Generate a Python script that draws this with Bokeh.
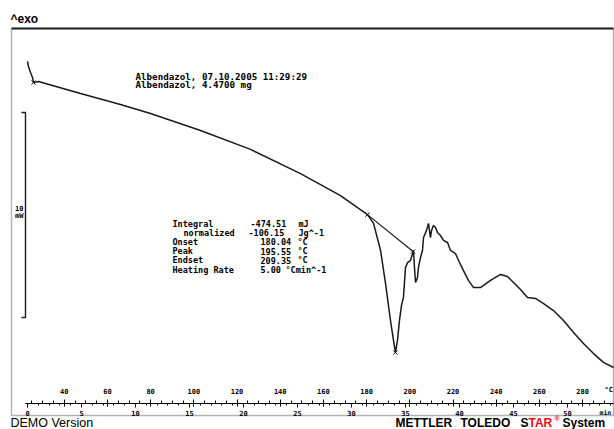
from bokeh.plotting import figure
from bokeh.models import Range1d, LinearAxis, FixedTicker, SingleIntervalTicker, Label, ColumnDataSource, BoxAnnotation
from bokeh.core.properties import value
from bokeh.embed import file_html
from bokeh.resources import INLINE

# ---------------- data ----------------
time_min = [0.00, 0.09, 0.28, 0.46, 0.56, 1.02, 4.91, 8.61, 11.39, 16.02,
            20.65, 25.28, 28.98, 31.48, 32.04, 32.69, 33.15, 33.61, 33.89, 34.07,
            34.26, 34.44, 34.63, 34.81, 35.00, 35.19, 35.46, 35.65, 35.74, 35.83,
            35.93, 36.11, 36.20, 36.39, 36.57, 36.67, 36.94, 37.13, 37.31, 37.41,
            37.59, 37.78, 37.96, 38.24, 38.52, 38.89, 39.17, 39.63, 39.91, 40.37,
            40.83, 41.30, 41.94, 42.87, 43.80, 44.44, 45.00, 45.65, 46.30, 47.04,
            47.78, 48.70, 49.63, 50.56, 51.48, 52.41, 53.33, 54.26]
heat_mw = [5.27, 5.02, 4.73, 4.49, 4.24, 4.29, 3.71, 3.17, 2.73, 1.90,
           0.98, -0.20, -1.27, -2.20, -2.63, -3.95, -5.56, -7.37, -8.34, -8.93,
           -8.34, -7.37, -6.63, -6.24, -4.78, -4.54, -4.44, -4.10, -3.95, -4.78,
           -5.51, -5.27, -4.78, -4.29, -3.95, -3.32, -2.98, -2.63, -3.32, -2.98,
           -2.73, -2.83, -3.07, -3.22, -3.46, -3.56, -3.95, -4.10, -4.44, -4.93,
           -5.41, -5.76, -5.76, -5.41, -5.12, -5.22, -5.51, -5.85, -6.24, -6.29,
           -6.54, -6.88, -7.37, -7.95, -8.49, -8.98, -9.41, -9.66]

baseline_t = [31.48, 35.70]
baseline_mw = [-2.20, -4.00]

mark_t = [0.56, 31.48, 34.07, 35.70]
mark_mw = [4.24, -2.20, -8.93, -4.00]

temp_ticks = [40, 60, 80, 100, 120, 140, 160, 180, 200, 220, 240, 260, 280]
temp_minor = list(range(25, 295, 5))
time_tick_interval = 5

start_temp = 23.0       # degC at t = 0
heating_rate = 5.0      # K/min
scale_bar_mw = 10

header_lines = ["Albendazol, 07.10.2005 11:29:29", "Albendazol, 4.4700 mg"]
result_labels = ["Integral", "normalized", "Onset", "Peak", "Endset", "Heating Rate"]
result_values = ["-474.51", "-106.15", "180.04", "195.55", "209.35", "5.00"]
result_units = ["mJ", "Jg^-1", "\u00b0C", "\u00b0C", "\u00b0C", "\u00b0Cmin^-1"]

# ---------------- layout helpers (pixel -> data, for placing annotations) ----------------
W, H = 614, 429
BL, BR, BT, BB = 11, 613, 28, 415      # drawn box
PX_PER_MIN = 10.8
PX_PER_MW = 20.5
X0_PX = 27
Y_REF_PX, Y_REF = 415, -12.0

def dx(px):
    return (px - X0_PX) / PX_PER_MIN

def dy(py):
    return (Y_REF_PX - py) / PX_PER_MW + Y_REF

x_start, x_end = dx(0), dx(W)
y_start, y_end = dy(H), dy(0)

p = figure(width=W, height=H, output_backend="svg", toolbar_location=None,
           x_range=Range1d(x_start, x_end), y_range=Range1d(y_start, y_end),
           y_axis_location=None, min_border=0)
p.background_fill_color = "white"
p.border_fill_color = "white"
p.outline_line_color = None
p.xgrid.visible = False
p.ygrid.visible = False

# frame box
p.add_layout(BoxAnnotation(left=dx(BL), right=dx(BR), top=dy(BT), bottom=dy(BB),
                           fill_alpha=0, line_color="black", line_width=1.4))
p.add_layout(BoxAnnotation(left=dx(BL), right=dx(BR), top=dy(BT - 1), bottom=dy(BT + 1),
                           fill_color="#222222", fill_alpha=1, line_alpha=0))

axis_y = dy(403)
font_mono = "DejaVu Sans Mono"

# bottom time axis
xa = p.xaxis[0]
xa.fixed_location = axis_y
xa.bounds = (dx(25), dx(BR))
xa.ticker = SingleIntervalTicker(interval=time_tick_interval, num_minor_ticks=5)
xa.major_label_text_font = font_mono
xa.major_label_text_font_size = "7px"
xa.major_label_text_font_style = "bold"
xa.major_label_text_color = "black"
xa.major_label_standoff = 2
xa.major_tick_in = 0
xa.major_tick_out = 4
xa.minor_tick_in = 0
xa.minor_tick_out = 2
xa.axis_line_color = "black"
xa.major_tick_line_color = "black"
xa.minor_tick_line_color = "black"

# top temperature axis
p.extra_x_ranges = {"degC": Range1d(start_temp + heating_rate * x_start,
                                    start_temp + heating_rate * x_end)}
ta = LinearAxis(x_range_name="degC", fixed_location=axis_y,
                bounds=(start_temp + heating_rate * dx(25), start_temp + heating_rate * dx(BR)),
                ticker=FixedTicker(ticks=temp_ticks, minor_ticks=temp_minor))
ta.major_label_text_font = font_mono
ta.major_label_text_font_size = "7px"
ta.major_label_text_font_style = "bold"
ta.major_label_text_color = "black"
ta.major_label_standoff = 6
ta.major_tick_in = 3
ta.major_tick_out = 4
ta.minor_tick_in = 0
ta.minor_tick_out = 3
ta.axis_line_color = "black"
p.add_layout(ta, "above")

# curve, baseline, marks
p.line(time_min, heat_mw, line_color="#1a1a1a", line_width=1.5)
p.line(baseline_t, baseline_mw, line_color="#1a1a1a", line_width=1.2)
p.scatter(mark_t, mark_mw, marker="x", size=6, line_color="#1a1a1a", line_width=1)

# scale bar (10 mW)
bar_x = dx(25)
bar_tick = dx(21)
bar_top = dy(112)
p.line([bar_tick, bar_x, bar_x, bar_tick],
       [bar_top, bar_top, bar_top - scale_bar_mw, bar_top - scale_bar_mw],
       line_color="#1a1a1a", line_width=1.4)

# text blocks
hdr = ColumnDataSource(dict(x=[dx(135)] * 2, y=[dy(76), dy(84)], t=header_lines))
p.text(x="x", y="y", text="t", source=hdr, text_font=value(font_mono), text_font_style="bold",
       text_font_size="9.2px", text_baseline="middle", text_align="left", text_color="black")

rows_py = [223 + 9.2 * i for i in range(len(result_labels))]
lab_px = [172, 183, 172, 172, 172, 172]
val_px = [250, 248, 260, 260, 260, 260]
unit_px = [298, 298, 297, 297, 297, 285]
res = ColumnDataSource(dict(
    lx=[dx(v) for v in lab_px], vx=[dx(v) for v in val_px], ux=[dx(u) for u in unit_px],
    y=[dy(py) for py in rows_py], l=result_labels, v=result_values, u=result_units))
for col_x, col_t in (("lx", "l"), ("vx", "v"), ("ux", "u")):
    p.text(x=col_x, y="y", text=col_t, source=res, text_font=value(font_mono),
           text_font_style="bold", text_font_size="8.5px", text_baseline="middle",
           text_align="left", text_color="black")

def lab(text, px, py, size, color="black", style="normal", font="Liberation Sans", align="left"):
    p.add_layout(Label(x=dx(px), y=dy(py), text=text, text_font=font, text_font_size=size,
                       text_font_style=style, text_color=color, text_align=align,
                       text_baseline="middle"))

lab("10", 23, 207, "7px", style="bold", font=font_mono, align="right")
lab("mW", 23, 215, "7px", style="bold", font=font_mono, align="right")
lab("^exo", 10, 18, "12px", style="bold")
lab("min", 599, 412, "6.5px", style="bold", font=font_mono)
lab("\u00b0C", 604, 389, "7px", style="bold", font=font_mono)
lab("DEMO Version", 10, 422, "12.5px")
lab("METTLER", 395, 422, "12px", style="bold")
lab("TOLEDO", 460, 422, "12px", style="bold")
lab("S", 520, 422, "12px", style="bold")
lab("TAR", 528, 422, "12px", color="#e0101a", style="bold")
lab("\u00ae", 554, 418, "7px", color="#e0101a", style="bold")
lab("System", 562, 422, "12px", style="bold")

open("out.html", "w").write(file_html(p, INLINE))
